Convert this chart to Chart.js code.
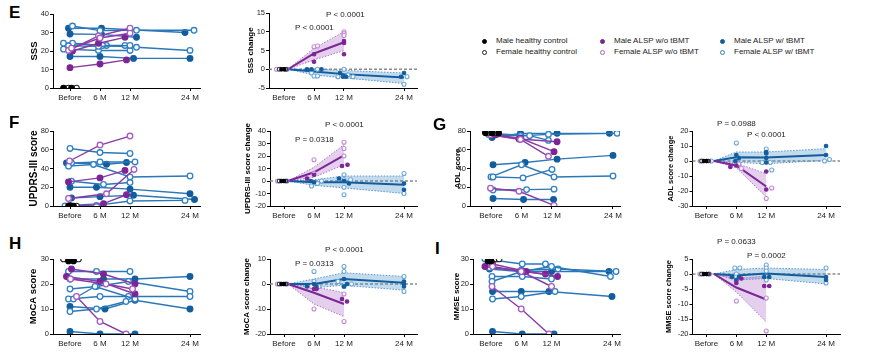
<!DOCTYPE html>
<html>
<head>
<meta charset="utf-8">
<script src="https://cdn.jsdelivr.net/npm/chart.js@4.4.1/dist/chart.umd.min.js"></script>
<style>
  html, body { margin: 0; padding: 0; background: #fff; }
  #fig { position: relative; width: 885px; height: 361px; overflow: hidden; font-family: "Liberation Sans", Arial, sans-serif; color: #222; }
  .box { position: absolute; }
  .lbl { position: absolute; font-weight: bold; font-size: 17px; color: #000; }
  .pv { position: absolute; font-size: 8px; white-space: nowrap; }
  .lg { position: absolute; font-size: 8px; white-space: nowrap; line-height: 10px; }
  .dot { display: inline-block; width: 5px; height: 5px; border-radius: 50%; margin-right: 9px; vertical-align: -0.5px; box-sizing: border-box; }
</style>
</head>
<body>
<div id="fig"></div>
<script>
// shared x axis
const timeTicks = [0, 6, 12, 24];
const timeLabels = ['Before', '6 M', '12 M', '24 M'];

// healthy controls: all at baseline
const hcChgMale = [[-0.5, 0], [0, 0]];
const hcChgFemale = [[-1, 0], [0.3, 0]];

// ---- E: SSS ----
const sssMaleTbmt = [
  [[-0.3, 32.3], [6.3, 32.3], [23, 30]],
  [[0, 29.2], [6.3, 29], [13.3, 27.4]],
  [[0, 17], [6, 17], [12.7, 16], [24, 16]]
];
const sssFemaleTbmt = [
  [[0.5, 33.5], [6, 31], [13.3, 31.2], [24.8, 31.2]],
  [[-1.3, 24.2], [7.3, 23], [13.3, 22], [24, 20.3]],
  [[-1.3, 21], [5.7, 20.3], [12, 20.3]],
  [[0.5, 24.2], [6.5, 23], [11, 23]],
  [[-0.3, 22.8], [5.7, 22.5], [12, 23]]
];
const sssMaleNo = [
  [[0.5, 20], [5.7, 24.2], [11, 27.4]],
  [[0, 11], [6, 13], [11.3, 15.2]]
];
const sssFemaleNo = [
  [[-0.3, 20.3], [5.7, 28.2], [12, 32.3]],
  [[0.3, 21.5], [6, 27], [12, 29.6]]
];
const sssHcMale = [[-1.3, 0], [0.3, 0]];
const sssHcFemale = [[-0.3, 0], [1.3, 0]];

const sssChgNoMean = [[0.8, 0], [6, 4.2], [12, 7.2]];
const sssChgNoBand = [[0.8, 0, 0], [6, 2.5, 5.6], [12, 5, 10]];
const sssChgTbmtMean = [[0.8, 0], [6, -0.6], [12, -1.3], [24, -2.2]];
const sssChgTbmtBand = [[0.8, 0, 0], [6, -1.5, 0], [12, -2.3, -0.3], [24, -3.8, -1]];
const sssChgMaleNo = [[0.5, 0], [6, 4], [6, 2], [12, 7], [12, 7.5], [12, 4]];
const sssChgFemaleNo = [[-1.5, 0], [6, 6], [6.7, 6.2], [12, 10], [12, 9.5], [12, 9]];
const sssChgMaleTbmt = [[0.2, 0], [4.6, 0], [5.5, 0], [7.5, 0], [11.2, -1], [11.8, -2], [12.4, -2], [24, -1], [23.4, -2]];
const sssChgFemaleTbmt = [[-0.8, 0], [0.6, 0], [5.5, -1], [6, -1.8], [6.7, -1.8], [6.7, 0], [12, 0], [10.8, -2], [12.8, -1.5], [13.8, -2], [24.6, -2], [24, -4]];

// ---- F: UPDRS-III ----
const updMaleTbmt = [
  [[-0.7, 46], [7.3, 44.6], [11.3, 46.4]],
  [[0, 20], [5.3, 20], [12, 18], [24, 13]],
  [[0.3, 8.5], [6, 10], [12.7, 11.4], [24.9, 7]]
];
const updFemaleTbmt = [
  [[0, 61.4], [6, 57], [12, 56]],
  [[0.3, 46], [6, 47], [13, 47]],
  [[-0.3, 42.5], [4.7, 44.3], [12, 31], [24, 32]],
  [[0.3, 26.4], [6.7, 23], [12, 25]],
  [[-1, 0], [5.3, 0.7], [12, 5.4], [23, 6]]
];
const updMaleNo = [
  [[-0.3, 25.7], [6, 30], [11, 38]],
  [[0, 0.7], [6.7, 2.5], [11.3, 12]]
];
const updFemaleNo = [
  [[-0.1, 48], [6, 65], [12, 74.6]],
  [[-0.3, 8], [7.3, 13], [12.8, 39]]
];
const updHcMale = [[-0.3, 0], [0.7, 0]];
const updHcFemale = [[0.2, 0], [1.3, 0]];

const updChgNoMean = [[0.8, 0], [6, 7], [12, 20.5]];
const updChgNoBand = [[0.8, 0, 0], [6, 3, 11], [12, 13, 29]];
const updChgTbmtMean = [[0.8, 0], [6, -1], [12, -1], [24, -3]];
const updChgTbmtBand = [[0.8, 0, 0], [6, -3.5, 1], [12, -5.5, 4], [24, -10, 4]];
const updChgMaleNo = [[0.5, 0], [4.6, 2], [6, 5], [11.6, 12], [12.7, 13]];
const updChgFemaleNo = [[-1.3, 0], [6, 17], [6, 6], [12, 31], [12, 26], [12, 20]];
const updChgMaleTbmt = [[0, 0], [6, -1], [5.3, 0], [11, 2], [12, 0], [13, -2], [24, -2], [24, -7]];
const updChgFemaleTbmt = [[-0.8, 0], [0.6, 0], [5.5, -4], [6.7, -2], [7.5, 0], [12, 5], [12, 1], [12, -5], [12, -11], [13.3, 1], [24, 6], [24, -10]];

// ---- G: ADL ----
const adlMaleTbmt = [
  [[0.2, 73], [5.8, 77.5], [13, 77.5], [23.3, 77.5]],
  [[0.4, 44], [6.7, 46.4], [13, 50], [24, 54]],
  [[0.4, 8], [6.4, 7], [12.3, 7]]
];
const adlFemaleTbmt = [
  [[-0.5, 76.4], [5.8, 75], [11.3, 76.4], [24.8, 77.5]],
  [[0.9, 77], [7.6, 75], [11.3, 70]],
  [[0, 31], [6, 44], [12.4, 31], [24, 32]],
  [[0.4, 31], [6.3, 30], [12, 39]],
  [[0.4, 17], [7, 17.5], [12.4, 18]]
];
const adlMaleNo = [
  [[0.2, 76], [5.5, 71.4], [13, 68.6]],
  [[0.9, 76], [5.9, 72], [12.4, 58]]
];
const adlFemaleNo = [
  [[-0.1, 76], [5.8, 71], [11.3, 53]],
  [[-0.1, 19], [5.5, 15.7], [12.4, 0.7]]
];
const adlHcMale = [[-1.1, 78.2], [0.2, 78], [1.5, 78]];
const adlHcFemale = [[-0.4, 78.5], [0.8, 78.3]];

const adlChgNoMean = [[1.5, 0], [6, -3], [12, -17]];
const adlChgNoBand = [[1.5, 0, 0], [6, -4.5, -1.5], [12, -24, -8.5]];
const adlChgTbmtMean = [[1.5, 0], [6, 2.5], [12, 2.3], [24, 4]];
const adlChgTbmtBand = [[1.5, 0, 0], [6, -1, 6], [12, -1.8, 6], [24, 0.4, 8.2]];
const adlChgMaleNo = [[0.5, 0], [4.8, -4], [6, -3], [12, -7], [12, -19]];
const adlChgFemaleNo = [[-0.8, 0], [6.5, -2], [7, -5], [12, -25], [13.1, -18]];
const adlChgMaleTbmt = [[0, 0], [6, 4], [6.5, 2], [5.8, 0], [12, 6], [12, 5], [12, 2], [12, -1], [24, 10], [24, 4]];
const adlChgFemaleTbmt = [[-1.2, 0], [1, 0], [6, 12], [6.5, 2], [6, -2], [12, 8], [11.2, -1], [12.8, -1], [13.1, -6], [23.7, 0], [24.7, 1]];

// ---- H: MoCA ----
const mocaMaleTbmt = [
  [[0, 22], [6.7, 22], [13, 22], [24, 23]],
  [[0, 11], [7, 10], [13, 13.5], [24, 10]],
  [[0, 1], [6, 0], [13, 0]]
];
const mocaFemaleTbmt = [
  [[-0.3, 25], [5.3, 25], [12, 25]],
  [[0, 18], [5.3, 19], [11.7, 21], [24, 17]],
  [[-0.3, 14], [6, 15], [11.7, 15], [24, 15]],
  [[0.7, 14], [5, 19], [13, 14]],
  [[0, 9], [5.3, 10], [11.2, 13]]
];
const mocaMaleNo = [
  [[0.3, 26], [6.7, 24], [13, 20]],
  [[-0.7, 23], [6, 21], [13, 16]]
];
const mocaFemaleNo = [
  [[0.1, 22], [7.2, 20], [12.5, 18]],
  [[1.3, 15], [6, 5], [11.2, 0]]
];
const mocaHcMale = [[-0.3, 29.2], [0.7, 29.2]];
const mocaHcFemale = [[-1.3, 30], [1.7, 30]];

const mocaChgNoMean = [[0.8, 0], [6, -3.5], [12, -8]];
const mocaChgNoBand = [[0.8, 0, 0], [6, -8, -1], [12, -13, -3.5]];
const mocaChgTbmtMean = [[0.8, 0], [6, 0], [12, 2], [24, 0.5]];
const mocaChgTbmtBand = [[0.8, 0, 0], [6, -1.5, 2], [12, -0.5, 4.5], [24, -2.5, 3]];
const mocaChgMaleNo = [[0.5, 0], [6, -2], [6.5, -2], [11.6, -6], [12.6, -7]];
const mocaChgFemaleNo = [[-1.3, 0], [6, -10], [5.5, -1], [12, -15], [12, -4]];
const mocaChgMaleTbmt = [[0, 0], [4.6, -1], [6, 0], [6.5, -1], [12, 2], [12, -1], [12.6, 0], [24, 1], [24, -1], [24, 0]];
const mocaChgFemaleTbmt = [[-0.8, 0], [0.6, 0], [6, 5], [6, 1], [7, -1], [12, 7], [12, 5], [10.8, 1], [12, -1], [13.5, 0], [24, 3], [24, -3]];

// ---- I: MMSE ----
const mmseMaleTbmt = [
  [[-0.3, 26], [5.7, 25], [12, 25], [23.4, 25]],
  [[0.3, 17], [6, 17], [11.5, 17], [24, 15]],
  [[0.3, 1], [6.2, 0], [12.5, 0]]
];
const mmseFemaleTbmt = [
  [[-1.2, 30], [6.2, 28], [10.8, 28]],
  [[-0.3, 26.5], [6, 25.5], [13.3, 26], [24.8, 25]],
  [[0.2, 23], [6.2, 23], [12, 22]],
  [[0.2, 21], [6, 25], [12, 27], [23.7, 23]],
  [[0.3, 14], [6, 15], [12.7, 17]]
];
const mmseMaleNo = [
  [[-1.2, 27], [6.4, 25], [10.8, 24]],
  [[0.3, 28], [7, 25], [13.2, 23]]
];
const mmseFemaleNo = [
  [[0.3, 27], [6, 25], [12, 19]],
  [[0.2, 19], [6, 10], [11.5, 0]]
];
const mmseHcMale = [[-0.6, 29.2], [0, 29.2]];
const mmseHcFemale = [[1, 30], [1.6, 30]];

const mmseChgNoMean = [[1.5, 0], [6, -4.5], [12, -8.5]];
const mmseChgNoBand = [[1.5, 0, 0], [6, -6, -1.5], [12, -16, -0.7]];
const mmseChgTbmtMean = [[1.5, 0], [6, -0.5], [12, 0.2], [24, -1]];
const mmseChgTbmtBand = [[1.5, 0, 0], [6, -2, 1.5], [12, -1.5, 2], [24, -3.3, 1.5]];
const mmseChgMaleNo = [[0.5, 0], [6, -3], [7, -1.5], [11.6, -4], [12.6, -4]];
const mmseChgFemaleNo = [[-1.3, 0], [6, -9], [6, -2], [12, -19], [12, -8]];
const mmseChgMaleTbmt = [[0, 0], [5.1, -1], [6, -2], [6.5, -1], [11.6, -1], [12.6, -1], [24, -1], [24, -2]];
const mmseChgFemaleTbmt = [[-0.8, 0], [0.6, 0], [5.7, 2], [6.7, 2], [6, 0], [6, -1], [12, 3], [12, 2], [12, 1], [12, -2], [24, 2], [24, -3]];

// ---- styling ----
const FONT = '"Liberation Sans", Arial, sans-serif';
const BLUE_DK = '#125d9e', BLUE_LN = '#2a78b8', BLUE_OP = '#2f80c4', BLUE_LT = '#6fa8d6';
const PUR_DK = '#7d2596', PUR_LN = '#8a3aa6', PUR_OP = '#a45cc2', PUR_LT = '#c28ad6';
const PAD_T = 18, PAD_R = 10, XH = 16, PAD_B = 6;

Chart.register({
  id: 'zeroLine',
  beforeDatasetsDraw(chart, args, opts) {
    if (!opts || !opts.show) return;
    const { ctx, chartArea, scales } = chart;
    const y = scales.y.getPixelForValue(0);
    ctx.save();
    ctx.strokeStyle = '#8a8a8a';
    ctx.lineWidth = 1.3;
    ctx.setLineDash([3, 2]);
    ctx.beginPath();
    ctx.moveTo(chartArea.left, y);
    ctx.lineTo(chartArea.right, y);
    ctx.stroke();
    ctx.restore();
  }
});

const xy = pts => pts.map(p => ({ x: p[0], y: p[1] }));

function trajSets(lines, line, edge, fill) {
  return lines.map(pts => ({
    data: xy(pts), showLine: true, borderColor: line, borderWidth: 1.4,
    pointRadius: 2.8, pointBorderWidth: 1.3, pointBorderColor: edge, pointBackgroundColor: fill
  }));
}
function dotSet(pts, edge, fill, r) {
  return { data: xy(pts), showLine: false, pointRadius: r, pointBorderWidth: 1.1, pointBorderColor: edge, pointBackgroundColor: fill };
}
function bandSets(band, edge, fill) {
  const lo = { data: band.map(b => ({ x: b[0], y: b[1] })), showLine: true, borderColor: edge, borderWidth: 1, borderDash: [1.5, 1.5], pointRadius: 0, fill: false };
  const hi = { data: band.map(b => ({ x: b[0], y: b[2] })), showLine: true, borderColor: edge, borderWidth: 1, borderDash: [1.5, 1.5], pointRadius: 0, fill: '-1', backgroundColor: fill };
  return [lo, hi];
}
function meanSet(pts, color) {
  return { data: xy(pts), showLine: true, borderColor: color, borderWidth: 2, pointRadius: 0 };
}

function scoreSets(mt, ft, mn, fn, hm, hf) {
  return [].concat(
    trajSets(mt, BLUE_LN, BLUE_DK, BLUE_DK),
    trajSets(ft, BLUE_LN, BLUE_OP, '#fff'),
    trajSets(mn, PUR_LN, PUR_DK, PUR_DK),
    trajSets(fn, PUR_LN, PUR_OP, '#fff'),
    [dotSet(hf, '#222', '#fff', 2.8), dotSet(hm, '#000', '#000', 2.8)]
  );
}
function changeSets(tBand, nBand, tMean, nMean, mt, ft, mn, fn) {
  return [].concat(
    bandSets(tBand, '#5a9bd0', 'rgba(70,140,200,0.32)'),
    bandSets(nBand, '#b07cc9', 'rgba(165,95,195,0.30)'),
    [meanSet(tMean, BLUE_DK), meanSet(nMean, PUR_DK)],
    [dotSet(ft, BLUE_LT, '#fff', 2), dotSet(fn, PUR_LT, '#fff', 2),
     dotSet(mt, BLUE_DK, BLUE_DK, 1.8), dotSet(mn, PUR_DK, PUR_DK, 1.8),
     dotSet(hcChgFemale, '#333', '#fff', 1.8), dotSet(hcChgMale, '#000', '#000', 1.8)]
  );
}

function makePanel(p) {
  const left = p.L - p.yw, top = p.T - PAD_T;
  const w = p.R + PAD_R - left, h = p.B + XH + PAD_B - top;
  const box = document.createElement('div');
  box.className = 'box';
  box.style.left = left + 'px'; box.style.top = top + 'px';
  const canvas = document.createElement('canvas');
  canvas.width = w; canvas.height = h;
  box.appendChild(canvas);
  document.getElementById('fig').appendChild(box);
  const ppm = (p.x24 - p.x0) / 24;
  const sets = p.sets;
  sets.forEach((d, i) => { d.order = sets.length - i; });
  new Chart(canvas, {
    type: 'line',
    data: { datasets: sets },
    options: {
      responsive: false, animation: false, devicePixelRatio: 1,
      layout: { padding: { top: PAD_T, right: PAD_R, left: 0, bottom: PAD_B } },
      elements: { line: { tension: 0 } },
      plugins: { legend: { display: false }, tooltip: { enabled: false }, zeroLine: { show: !!p.zero } },
      scales: {
        x: {
          type: 'linear',
          min: (p.L - p.x0) / ppm, max: (p.R - p.x0) / ppm,
          afterBuildTicks: s => { s.ticks = timeTicks.map(v => ({ value: v })); },
          afterFit: s => { s.height = XH; },
          ticks: { callback: v => timeLabels[timeTicks.indexOf(v)], autoSkip: false, maxRotation: 0, padding: 2, color: '#222', font: { family: FONT, size: 8 } },
          grid: { display: true, drawOnChartArea: false, drawTicks: true, tickLength: 3, color: '#000' },
          border: { display: true, color: '#000', width: 1 }
        },
        y: {
          min: p.ymin, max: p.ymax,
          afterFit: s => { s.width = p.yw; },
          ticks: { stepSize: p.step, padding: 1, color: '#222', font: { family: FONT, size: 7.5 } },
          grid: { display: true, drawOnChartArea: false, drawTicks: true, tickLength: 3, color: '#000' },
          border: { display: true, color: '#000', width: 1 },
          title: { display: true, text: p.title, padding: 0, color: '#000', font: { family: FONT, size: p.ts, weight: 'bold' } }
        }
      }
    }
  });
}

const panels = [
  { title: 'SSS', ts: 9.5, L: 53, x0: 70, x24: 190, R: 200, T: 14, B: 88, ymin: 0, ymax: 40, step: 10, yw: 24,
    sets: scoreSets(sssMaleTbmt, sssFemaleTbmt, sssMaleNo, sssFemaleNo, sssHcMale, sssHcFemale) },
  { title: 'SSS change', ts: 8, L: 269, x0: 284, x24: 404, R: 417, T: 13, B: 88, ymin: -5, ymax: 15, step: 5, yw: 23, zero: true,
    sets: changeSets(sssChgTbmtBand, sssChgNoBand, sssChgTbmtMean, sssChgNoMean, sssChgMaleTbmt, sssChgFemaleTbmt, sssChgMaleNo, sssChgFemaleNo) },
  { title: 'UPDRS-III score', ts: 10, L: 53, x0: 70, x24: 190, R: 200, T: 131, B: 206, ymin: 0, ymax: 80, step: 20, yw: 25,
    sets: scoreSets(updMaleTbmt, updFemaleTbmt, updMaleNo, updFemaleNo, updHcMale, updHcFemale) },
  { title: 'UPDRS-III score change', ts: 8, L: 270, x0: 284, x24: 404, R: 417, T: 131, B: 206, ymin: -20, ymax: 40, step: 10, yw: 27, zero: true,
    sets: changeSets(updChgTbmtBand, updChgNoBand, updChgTbmtMean, updChgNoMean, updChgMaleTbmt, updChgFemaleTbmt, updChgMaleNo, updChgFemaleNo) },
  { title: 'ADL score', ts: 8, L: 470, x0: 491, x24: 613, R: 620, T: 131, B: 206, ymin: 0, ymax: 80, step: 20, yw: 17,
    sets: scoreSets(adlMaleTbmt, adlFemaleTbmt, adlMaleNo, adlFemaleNo, adlHcMale, adlHcFemale) },
  { title: 'ADL score change', ts: 7.5, L: 692, x0: 706, x24: 826, R: 840, T: 131, B: 206, ymin: -30, ymax: 20, step: 10, yw: 26.5, zero: true,
    sets: changeSets(adlChgTbmtBand, adlChgNoBand, adlChgTbmtMean, adlChgNoMean, adlChgMaleTbmt, adlChgFemaleTbmt, adlChgMaleNo, adlChgFemaleNo) },
  { title: 'MoCA score', ts: 9.5, L: 53, x0: 70, x24: 190, R: 200, T: 259, B: 334, ymin: 0, ymax: 30, step: 10, yw: 25,
    sets: scoreSets(mocaMaleTbmt, mocaFemaleTbmt, mocaMaleNo, mocaFemaleNo, mocaHcMale, mocaHcFemale) },
  { title: 'MoCA score change', ts: 8, L: 270, x0: 284, x24: 404, R: 417, T: 259, B: 334, ymin: -20, ymax: 10, step: 10, yw: 28, zero: true,
    sets: changeSets(mocaChgTbmtBand, mocaChgNoBand, mocaChgTbmtMean, mocaChgNoMean, mocaChgMaleTbmt, mocaChgFemaleTbmt, mocaChgMaleNo, mocaChgFemaleNo) },
  { title: 'MMSE score', ts: 8, L: 473, x0: 491, x24: 612, R: 620, T: 259, B: 334, ymin: 0, ymax: 30, step: 10, yw: 21,
    sets: scoreSets(mmseMaleTbmt, mmseFemaleTbmt, mmseMaleNo, mmseFemaleNo, mmseHcMale, mmseHcFemale) },
  { title: 'MMSE score change', ts: 7.5, L: 692, x0: 706, x24: 826, R: 840, T: 259, B: 334, ymin: -20, ymax: 5, step: 5, yw: 28.5, zero: true,
    sets: changeSets(mmseChgTbmtBand, mmseChgNoBand, mmseChgTbmtMean, mmseChgNoMean, mmseChgMaleTbmt, mmseChgFemaleTbmt, mmseChgMaleNo, mmseChgFemaleNo) }
];
panels.forEach(makePanel);

// panel letters, P values, legend
const fig = document.getElementById('fig');
function addText(cls, text, x, y) {
  const d = document.createElement('div');
  d.className = cls; d.textContent = text;
  d.style.left = x + 'px'; d.style.top = y + 'px';
  fig.appendChild(d);
}
[['E', 9, 3], ['F', 9, 113], ['G', 433, 115], ['H', 9, 234], ['I', 435, 239]].forEach(t => addText('lbl', t[0], t[1], t[2]));
[['P < 0.0001', 326, 10], ['P < 0.0001', 295, 23],
 ['P < 0.0001', 325, 120], ['P = 0.0318', 295, 135],
 ['P = 0.0988', 717, 119], ['P < 0.0001', 747, 130],
 ['P < 0.0001', 325, 245], ['P = 0.0313', 295, 259],
 ['P = 0.0633', 717, 237], ['P = 0.0002', 747, 251]].forEach(t => addText('pv', t[0], t[1], t[2]));

const legendItems = [
  ['Male healthy control', 482, 36, '#000', '#000'],
  ['Female healthy control', 482, 47, '#222', '#fff'],
  ['Male ALSP w/o tBMT', 600, 36, PUR_DK, PUR_DK],
  ['Female ALSP w/o tBMT', 600, 47, PUR_OP, '#fff'],
  ['Male ALSP w/ tBMT', 720, 36, BLUE_DK, BLUE_DK],
  ['Female ALSP w/ tBMT', 720, 47, BLUE_OP, '#fff']
];
legendItems.forEach(it => {
  const d = document.createElement('div');
  d.className = 'lg';
  d.style.left = it[1] + 'px'; d.style.top = it[2] + 'px';
  const dot = document.createElement('span');
  dot.className = 'dot';
  dot.style.background = it[4];
  dot.style.border = '1.3px solid ' + it[3];
  d.appendChild(dot);
  d.appendChild(document.createTextNode(it[0]));
  fig.appendChild(d);
});
</script>
</body>
</html>
